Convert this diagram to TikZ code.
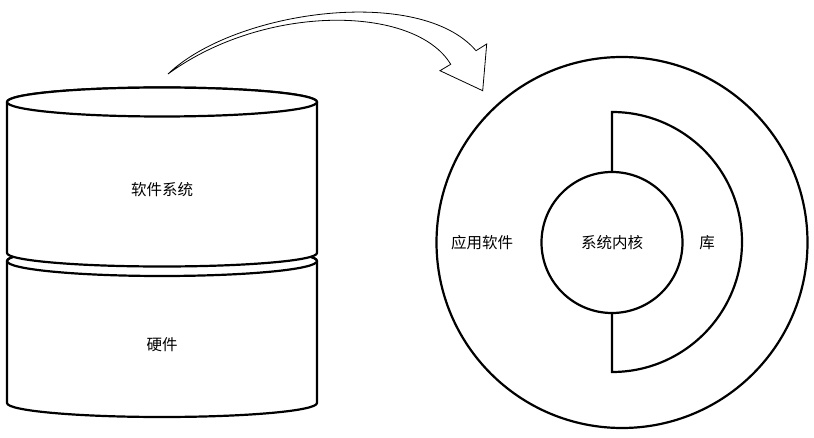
\documentclass[tikz,border=0pt]{standalone}
\usepackage{fontspec}
\newfontfamily\cjk{Noto Sans CJK SC}
\begin{document}
\begin{tikzpicture}[x=1pt,y=-1pt,
  shape line/.style={line width=2.2pt, draw=black, fill=white},
  label text/.style={font=\cjk\fontsize{15.5}{17}\selectfont, inner sep=0pt, text=black},
  arrow line/.style={line width=0.8pt, draw=black, fill=white, line join=miter}]
\useasboundingbox (0,0) rectangle (814,438);
% lower cylinder (hardware)
\draw[shape line] (7,261) -- (7,403) arc[start angle=180,end angle=360,x radius=155pt,y radius=14pt] -- (317,261) arc[start angle=0,end angle=180,x radius=155pt,y radius=15pt] -- cycle;
\draw[shape line, fill=none] (162,261) ellipse[x radius=155pt,y radius=15pt];
% upper cylinder (software)
\draw[shape line] (7,102) -- (7,253) arc[start angle=180,end angle=360,x radius=155pt,y radius=13.5pt] -- (317,102) arc[start angle=0,end angle=180,x radius=155pt,y radius=14.5pt] -- cycle;
\draw[shape line] (162,102) ellipse[x radius=155pt,y radius=14.5pt];
\node[label text] (sw) at (162,190) {软件系统};
\node[label text] (hw) at (162,345) {硬件};
% curved arrow
\coordinate (tail) at (168,74);
\coordinate (oe) at (476,50.7);
\coordinate (ie) at (450.7,64.3);
\draw[arrow line] (tail) .. controls (235,10) and (420,-15) .. (oe)
  -- (486.7,44) -- (482.7,90.7) -- (440,70.7) -- (ie)
  .. controls (415,5) and (265,3) .. (tail) -- cycle;
% rings
\draw[shape line] (622,242.5) circle[radius=185.5pt];
\draw[shape line] (612,112) arc[start angle=90,end angle=-90,radius=130pt] -- cycle;
\draw[shape line] (612,242.5) circle[radius=70.5pt];
\node[label text] (app) at (482,243) {应用软件};
\node[label text] (kernel) at (612,243) {系统内核};
\node[label text] (lib) at (707,243) {库};
\end{tikzpicture}
\end{document}
